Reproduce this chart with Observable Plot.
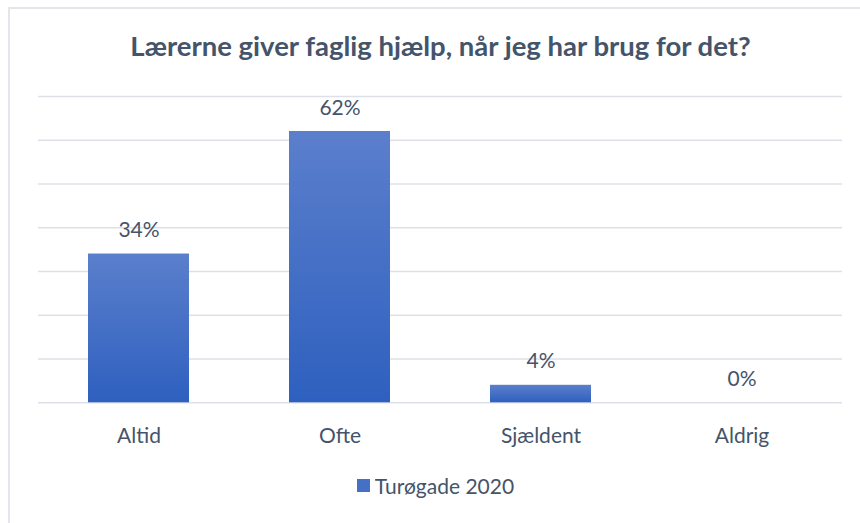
<!DOCTYPE html>
<html><head><meta charset="utf-8">
<script src="https://cdn.jsdelivr.net/npm/d3@7"></script>
<script src="https://cdn.jsdelivr.net/npm/@observablehq/plot@0.6"></script>
<style>
html,body{margin:0;padding:0;background:#fff;width:860px;height:523px;overflow:hidden;font-family:Lato,sans-serif;}
#frame{position:absolute;left:8px;top:7px;width:900px;height:600px;border-left:2px solid #e3e6ea;border-top:2px solid #e3e6ea;box-sizing:border-box;}
#chart{position:absolute;left:0;top:0;}
#legend{position:absolute;left:16px;top:469px;width:860px;display:flex;justify-content:center;}
#legend svg{margin-right:5px !important;}
</style></head><body>
<div id="frame"></div>
<div id="chart"></div>
<div id="legend"></div>
<script>
const title = "Lærerne giver faglig hjælp, når jeg har brug for det?";
const categories = ["Altid", "Ofte", "Sjældent", "Aldrig"];
const values = [34, 62, 4, 0];
const seriesName = "Turøgade 2020";
const gridTicks = [0, 10, 20, 30, 40, 50, 60, 70];

const data = categories.map((c, i) => ({category: c, value: values[i]}));
const textColor = "#44546a";

const chart = Plot.plot({
  width: 860,
  height: 470,
  marginLeft: 38,
  marginRight: 18,
  marginTop: 96,
  marginBottom: 67.7,
  style: {fontFamily: "Lato", color: textColor, background: "transparent", overflow: "visible"},
  x: {domain: categories, paddingInner: 0.5, paddingOuter: 0.25, label: null},
  y: {domain: [0, 70], axis: null},
  marks: [
    Plot.ruleY(gridTicks, {stroke: "#dde1e7", strokeWidth: 1.5}),
    Plot.barY(data, {x: "category", y: "value", fill: "url(#barGrad)"}),
    Plot.text(data, {x: "category", y: "value", text: d => `${d.value}%`, dy: -17, lineAnchor: "bottom", fontSize: 21, fill: textColor}),
    Plot.axisX({tickSize: 0, tickPadding: 25, fontSize: 21, fill: textColor, label: null}),
    Plot.text([title], {frameAnchor: "top", dy: -41, lineAnchor: "bottom", fontSize: 27.5, fontWeight: "bold", fill: textColor, text: d => d})
  ]
});

const ns = "http://www.w3.org/2000/svg";
const defs = document.createElementNS(ns, "defs");
defs.innerHTML = `<linearGradient id="barGrad" x1="0" y1="0" x2="0" y2="1">
  <stop offset="0" stop-color="#5b7fcc"/><stop offset="1" stop-color="#2e60bf"/></linearGradient>`;
chart.insertBefore(defs, chart.firstChild);
document.getElementById("chart").appendChild(chart);

const legend = Plot.legend({
  color: {domain: [seriesName], range: ["#4470c6"]},
  legend: "swatches",
  swatchSize: 13,
  style: {fontFamily: "Lato", fontSize: "21px", color: textColor}
});
document.getElementById("legend").appendChild(legend);
</script>
</body></html>
